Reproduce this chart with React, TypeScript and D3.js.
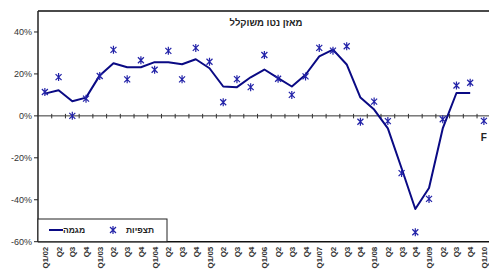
import { useRef, useEffect } from "react";
import * as d3 from "d3";

// quarters Q1/02 .. Q1/10
const quarters = [
  "Q1/02", "Q2", "Q3", "Q4",
  "Q1/03", "Q2", "Q3", "Q4",
  "Q1/04", "Q2", "Q3", "Q4",
  "Q1/05", "Q2", "Q3", "Q4",
  "Q1/06", "Q2", "Q3", "Q4",
  "Q1/07", "Q2", "Q3", "Q4",
  "Q1/08", "Q2", "Q3", "Q4",
  "Q1/09", "Q2", "Q3", "Q4",
  "Q1/10",
];

// observations (stars)
const observed = [
  11.4, 18.5, 0, 8.2, 19, 31.5, 17.4, 26.5, 22, 31, 17.4, 32.4, 25.8, 6.5, 17.5, 13.7,
  29, 17.7, 10, 18.8, 32.4, 31.1, 33.2, -2.8, 6.8, -2.5, -27.3, -55.5, -39.6, -1.6, 14.5, 15.8,
  -2.4,
];

// trend line (ends one quarter before the forecast)
const trend = [
  10.6, 12.2, 7, 8.7, 19.3, 25.1, 23.2, 23.2, 25.6, 25.6, 24.6, 27, 22.7, 14, 13.7, 18.4,
  22.1, 18, 14, 19.6, 28.4, 31.6, 24.5, 8.7, 3, -6, -25, -44.4, -34.4, -6, 10.9, 10.9,
];

const yTicks = [40, 20, 0, -20, -40, -60];

const title = "מאזן נטו משוקלל";
const legendLine = "מגמה";
const legendStars = "תצפיות";

const starPath = "M-3,-3L3,3M-3,3L3,-3M0,-4L0,4";

export default function App() {
  const svgRef = useRef<SVGSVGElement>(null);

  useEffect(() => {
    if (!svgRef.current) return;
    const svg = d3.select(svgRef.current);
    svg.selectAll("*").remove();

    const width = 489;
    const height = 273;
    const left = 38;
    const top = 11;
    const bottom = 241.7;
    const step = 13.72;
    const font = "'Liberation Sans', Arial, sans-serif";

    const x = d3
      .scaleBand<number>()
      .domain(quarters.map((_, i) => i))
      .range([left, left + step * quarters.length])
      .padding(0);
    const cx = (i: number) => (x(i) ?? 0) + x.bandwidth() / 2;

    const y = d3.scaleLinear().domain([-60, 50]).range([bottom, top]);

    svg.attr("width", width).attr("height", height);

    // frame: top border + left axis + bottom line
    svg.append("line")
      .attr("x1", left).attr("x2", width)
      .attr("y1", top).attr("y2", top)
      .attr("stroke", "#4a4a4a").attr("stroke-width", 2);
    svg.append("line")
      .attr("x1", left).attr("x2", left)
      .attr("y1", top).attr("y2", bottom)
      .attr("stroke", "#222").attr("stroke-width", 1.5);
    svg.append("line")
      .attr("x1", left).attr("x2", width)
      .attr("y1", bottom).attr("y2", bottom)
      .attr("stroke", "#111").attr("stroke-width", 1.5);

    // zero line with cross ticks
    svg.append("line")
      .attr("x1", left).attr("x2", width)
      .attr("y1", y(0)).attr("y2", y(0))
      .attr("stroke", "#333").attr("stroke-width", 1);
    svg.selectAll(".zt")
      .data(quarters.map((_, i) => i).slice(1))
      .join("line")
      .attr("x1", (d) => x(d) ?? 0).attr("x2", (d) => x(d) ?? 0)
      .attr("y1", y(0) - 2).attr("y2", y(0) + 2.5)
      .attr("stroke", "#333").attr("stroke-width", 1);

    // y ticks + labels
    svg.selectAll(".yt")
      .data(yTicks)
      .join("line")
      .attr("x1", left - 4).attr("x2", left)
      .attr("y1", (d) => y(d)).attr("y2", (d) => y(d))
      .attr("stroke", "#222");
    svg.selectAll(".yl")
      .data(yTicks)
      .join("text")
      .attr("x", left - 6)
      .attr("y", (d) => y(d) + 3)
      .attr("text-anchor", "end")
      .attr("font-family", font)
      .attr("font-size", "9px")
      .attr("fill", "#333")
      .text((d) => `${d}%`);

    // x labels
    svg.selectAll(".xl")
      .data(quarters)
      .join("text")
      .attr("transform", (_, i) => `translate(${cx(i) + 3},${bottom + 5}) rotate(-90)`)
      .attr("text-anchor", "end")
      .attr("font-family", font)
      .attr("font-size", "8px")
      .attr("font-weight", "bold")
      .attr("fill", "#333")
      .text((d) => d);

    // inner title
    svg.append("text")
      .attr("x", 266).attr("y", 26)
      .attr("text-anchor", "middle")
      .attr("font-family", font)
      .attr("font-size", "9.5px")
      .attr("font-weight", "bold")
      .attr("fill", "#222")
      .text(title);

    // trend line
    const line = d3
      .line<number>()
      .x((_, i) => cx(i))
      .y((d) => y(d));
    svg.append("path")
      .datum(trend)
      .attr("d", line)
      .attr("fill", "none")
      .attr("stroke", "#0a0a84")
      .attr("stroke-width", 2)
      .attr("stroke-linejoin", "round");

    // observations
    svg.selectAll(".st")
      .data(observed)
      .join("path")
      .attr("transform", (d, i) => `translate(${cx(i)},${y(d)})`)
      .attr("d", starPath)
      .attr("fill", "none")
      .attr("stroke", "#2222a8")
      .attr("stroke-width", 1.2);

    // forecast marker
    const last = observed.length - 1;
    svg.append("text")
      .attr("x", cx(last))
      .attr("y", y(observed[last]) + 20)
      .attr("text-anchor", "middle")
      .attr("font-family", font)
      .attr("font-size", "10px")
      .attr("font-weight", "bold")
      .attr("fill", "#222")
      .text("F");

    // legend
    const lg = svg.append("g");
    lg.append("rect")
      .attr("x", left).attr("y", 219)
      .attr("width", 129).attr("height", bottom - 219)
      .attr("fill", "#fff")
      .attr("stroke", "#222").attr("stroke-width", 1);
    lg.append("line")
      .attr("x1", 49).attr("x2", 63)
      .attr("y1", 230).attr("y2", 230)
      .attr("stroke", "#0a0a84").attr("stroke-width", 2);
    lg.append("text")
      .attr("x", 74).attr("y", 233)
      .attr("text-anchor", "middle")
      .attr("font-family", font)
      .attr("font-size", "8.5px")
      .attr("font-weight", "bold")
      .attr("fill", "#222")
      .text(legendLine);
    lg.append("path")
      .attr("transform", "translate(113,230)")
      .attr("d", starPath)
      .attr("fill", "none")
      .attr("stroke", "#2222a8")
      .attr("stroke-width", 1.2);
    lg.append("text")
      .attr("x", 140).attr("y", 233)
      .attr("text-anchor", "middle")
      .attr("font-family", font)
      .attr("font-size", "8.5px")
      .attr("font-weight", "bold")
      .attr("fill", "#222")
      .text(legendStars);
  }, []);

  return (
    <div style={{ position: "absolute", left: 0, top: 0 }}>
      <svg ref={svgRef} style={{ display: "block" }} />
    </div>
  );
}
